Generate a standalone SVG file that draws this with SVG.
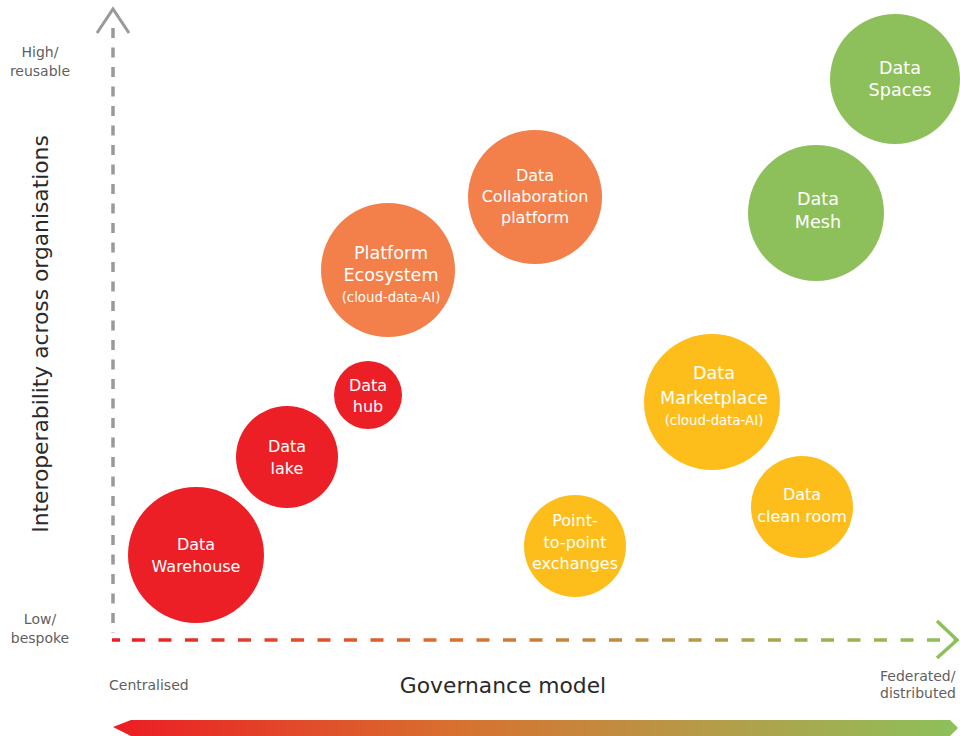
<svg xmlns="http://www.w3.org/2000/svg" width="960" height="736" viewBox="0 0 960 736">
<defs>
<linearGradient id="gx" gradientUnits="userSpaceOnUse" x1="113" y1="0" x2="960" y2="0">
<stop offset="0" stop-color="#EC1C24"/>
<stop offset="0.4" stop-color="#D8702F"/>
<stop offset="0.72" stop-color="#B39E4A"/>
<stop offset="1" stop-color="#8CC15A"/>
</linearGradient>
<style>
.ax{fill:none;stroke-width:3.5}
.lbl{font-family:"DejaVu Sans","Liberation Sans",sans-serif;font-size:14px;fill:#5f5f5f}
.big{font-family:"DejaVu Sans","Liberation Sans",sans-serif;font-size:21.8px;fill:#2a2a2a}
.nt{font-family:"DejaVu Sans","Liberation Sans",sans-serif;font-size:16px;fill:#fff;text-anchor:middle}
.sm{font-size:13.3px}
.l{font-size:17.6px}
.red{fill:#EC1F26}
.org{fill:#F37F4B}
.yel{fill:#FDBE1C}
.grn{fill:#8DC05B}
</style>
</defs>
<rect width="960" height="736" fill="#fff"/>
<g id="axes">
<line x1="113" y1="28" x2="113" y2="633" class="ax" stroke="#999" stroke-width="3" stroke-dasharray="10 9.5"/>
<polyline points="97,33 113,9 129,33" fill="none" stroke="#999" stroke-width="3"/>
<line x1="112" y1="640" x2="958" y2="640" class="ax" stroke="url(#gx)" stroke-dasharray="8 12 13 13.5 13 13.5 13 13.5 13 13.5 13 13.5 13 13.5 13 13.5 13 13.5 13 13.5 13 13.5 13 13.5 13 13.5 13 13.5 13 13.5 13 13.5 13 13.5 13 13.5 13 13.5 13 13.5 13 13.5 13 13.5 13 13.5 13 13.5 13 13.5 13 13.5 13 13.5 13 13.5 13 13.5 13 13.5 13 13.5 13 13.5 13 13.5 13 13.5 13 13.5"/>
<polyline points="937,621 957,640 937,658" fill="none" stroke="#8CC15A" stroke-width="3.5"/>
<polygon points="113,727 131,720 950,720 958,728 950,736 131,736" fill="url(#gx)"/>
</g>
<g id="labels">
<text class="lbl" x="40" y="57" text-anchor="middle">High/</text>
<text class="lbl" x="40" y="76" text-anchor="middle">reusable</text>
<text class="lbl" x="40" y="624" text-anchor="middle">Low/</text>
<text class="lbl" x="40" y="643" text-anchor="middle">bespoke</text>
<text class="lbl" x="109" y="690">Centralised</text>
<text class="lbl" x="880" y="681">Federated/</text>
<text class="lbl" x="880" y="698">distributed</text>
<text class="big" x="503" y="693" text-anchor="middle">Governance model</text>
<text class="big" transform="translate(48,334) rotate(-90)" text-anchor="middle">Interoperability across organisations</text>
</g>
<g id="data-warehouse"><circle cx="196" cy="555" r="68" class="red"/><text class="nt" x="196" y="550">Data</text><text class="nt" x="196" y="572">Warehouse</text></g>
<g id="data-lake"><circle cx="287" cy="457" r="51" class="red"/><text class="nt" x="287" y="452">Data</text><text class="nt" x="287" y="474">lake</text></g>
<g id="data-hub"><circle cx="368" cy="395" r="34" class="red"/><text class="nt" x="368" y="391">Data</text><text class="nt" x="368" y="412">hub</text></g>
<g id="platform-ecosystem"><circle cx="388" cy="270" r="67" class="org"/><text class="nt l" x="391" y="259">Platform</text><text class="nt l" x="391" y="281">Ecosystem</text><text class="nt sm" x="391" y="302">(cloud-data-AI)</text></g>
<g id="data-collaboration"><circle cx="535" cy="197" r="67" class="org"/><text class="nt" x="535" y="181">Data</text><text class="nt" x="535" y="202">Collaboration</text><text class="nt" x="535" y="223">platform</text></g>
<g id="data-spaces"><circle cx="895" cy="79" r="65" class="grn"/><text class="nt l" x="900" y="74">Data</text><text class="nt l" x="900" y="96">Spaces</text></g>
<g id="data-mesh"><circle cx="816" cy="213" r="68" class="grn"/><text class="nt l" x="818" y="205">Data</text><text class="nt l" x="818" y="228">Mesh</text></g>
<g id="data-marketplace"><circle cx="712" cy="402" r="68" class="yel"/><text class="nt l" x="714" y="379">Data</text><text class="nt l" x="714" y="404">Marketplace</text><text class="nt sm" x="714" y="425">(cloud-data-AI)</text></g>
<g id="data-clean-room"><circle cx="802" cy="507" r="51" class="yel"/><text class="nt" x="802" y="500">Data</text><text class="nt" x="802" y="522">clean room</text></g>
<g id="point-to-point"><circle cx="575" cy="546" r="51" class="yel"/><text class="nt" x="575" y="526">Point-</text><text class="nt" x="575" y="548">to-point</text><text class="nt" x="575" y="569">exchanges</text></g>
</svg>
